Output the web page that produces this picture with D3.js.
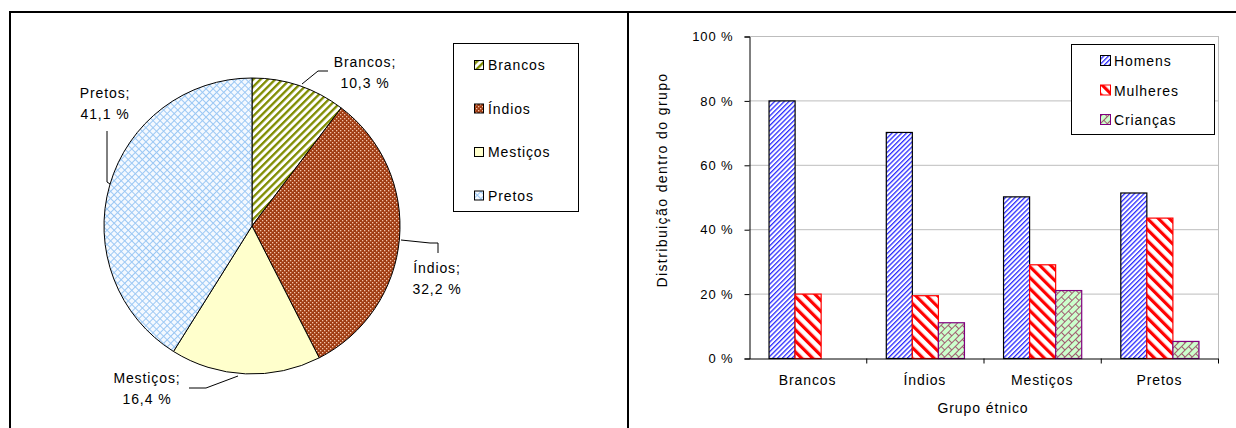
<!DOCTYPE html>
<html><head><meta charset="utf-8">
<script src="https://cdn.jsdelivr.net/npm/d3@7"></script>
<style>body{margin:0;background:#fff}svg{display:block;font-family:"Liberation Sans",Arial,sans-serif}</style>
</head><body>
<svg id="c" width="1236" height="428"></svg>
<script>
// ---- data ----
const pieCategories = ["Brancos","Índios","Mestiços","Pretos"];
const pieValues = [10.3, 32.2, 16.4, 41.1];
const pieLabels = ["10,3 %","32,2 %","16,4 %","41,1 %"];

const barCategories = ["Brancos","Índios","Mestiços","Pretos"];
const seriesNames = ["Homens","Mulheres","Crianças"];
const homens   = [80, 70.2, 50.2, 51.4];
const mulheres = [20, 19.5, 29.1, 43.6];
const criancas = [0, 11.1, 21.1, 5.3];
const yTicks = [0,20,40,60,80,100];
const yTickLabels = ["0 %","20 %","40 %","60 %","80 %","100 %"];

const svg = d3.select("#c");
const defs = svg.append("defs");
const FS = 14, LS = 0.9;

// ---- patterns ----
function stripePat(id, bg, color, w, sw, angle){
  const p = defs.append("pattern").attr("id",id).attr("patternUnits","userSpaceOnUse")
    .attr("width",w).attr("height",w).attr("patternTransform",`rotate(${angle})`);
  p.append("rect").attr("width",w).attr("height",w).attr("fill",bg);
  p.append("rect").attr("width",sw).attr("height",w).attr("fill",color);
  return p;
}
stripePat("pBr","#ffffff","#7f8c00",5.2,2.3,45);
(function(){
  const p = defs.append("pattern").attr("id","pIn").attr("patternUnits","userSpaceOnUse").attr("width",4).attr("height",4);
  p.append("rect").attr("width",4).attr("height",4).attr("fill","#a03c12");
  p.append("rect").attr("x",0).attr("y",0).attr("width",1.3).attr("height",1.3).attr("fill","#f4c4aa");
  p.append("rect").attr("x",2).attr("y",2).attr("width",1.3).attr("height",1.3).attr("fill","#f4c4aa");
})();
(function(){
  const p = defs.append("pattern").attr("id","pMe").attr("patternUnits","userSpaceOnUse").attr("width",4).attr("height",4);
  p.append("rect").attr("width",4).attr("height",4).attr("fill","#ffffcc");
})();
(function(){
  const p = defs.append("pattern").attr("id","pPr").attr("patternUnits","userSpaceOnUse")
    .attr("width",5).attr("height",5).attr("patternTransform","rotate(45)");
  p.append("rect").attr("width",5).attr("height",5).attr("fill","#f4f9ff");
  p.append("rect").attr("width",1).attr("height",5).attr("fill","#9cc8f4");
  p.append("rect").attr("width",5).attr("height",1).attr("fill","#9cc8f4");
})();
(function(){
  const p = defs.append("pattern").attr("id","pHo").attr("patternUnits","userSpaceOnUse")
    .attr("width",3.4).attr("height",3.4).attr("patternTransform","rotate(45)");
  p.append("rect").attr("width",3.4).attr("height",3.4).attr("fill","#ffffff");
  p.append("rect").attr("width",1.3).attr("height",3.4).attr("fill","#2b2bff");
})();
stripePat("pMu","#ffffff","#ff0000",7.8,3.2,-45);
(function(){
  const p = defs.append("pattern").attr("id","pCr").attr("patternUnits","userSpaceOnUse")
    .attr("width",10).attr("height",10).attr("patternTransform","rotate(-45)");
  p.append("rect").attr("width",10).attr("height",10).attr("fill","#ccffcc");
  p.append("rect").attr("x",0).attr("y",0).attr("width",10).attr("height",1).attr("fill","#a05a70");
  p.append("rect").attr("x",0).attr("y",5).attr("width",10).attr("height",1).attr("fill","#a05a70");
  p.append("rect").attr("x",0).attr("y",0).attr("width",1).attr("height",5).attr("fill","#a05a70");
  p.append("rect").attr("x",5).attr("y",5).attr("width",1).attr("height",5).attr("fill","#a05a70");
})();
const piePats = ["url(#pBr)","url(#pIn)","url(#pMe)","url(#pPr)"];
const barPats = ["url(#pHo)","url(#pMu)","url(#pCr)"];
const barStrokes = ["#000000","#ff0000","#800080"];

function txt(sel){ return sel.attr("font-size",FS).attr("letter-spacing",LS).attr("fill","#000"); }

// ---- table frame ----
svg.append("line").attr("x1",9).attr("x2",1236).attr("y1",12).attr("y2",12).attr("stroke","#000").attr("stroke-width",2);
svg.append("line").attr("x1",10).attr("x2",10).attr("y1",11).attr("y2",428).attr("stroke","#000").attr("stroke-width",2);
svg.append("line").attr("x1",628).attr("x2",628).attr("y1",11).attr("y2",428).attr("stroke","#000").attr("stroke-width",2);

// ---- pie ----
const cx=252, cy=226, R=148;
const pie = d3.pie().sort(null).value(d=>d)(pieValues);
const arc = d3.arc().innerRadius(0).outerRadius(R);
const gp = svg.append("g").attr("transform",`translate(${cx},${cy})`);
gp.selectAll("path").data(pie).join("path").attr("d",arc)
  .attr("fill",(d,i)=>piePats[i]).attr("stroke","#000").attr("stroke-width",1);

const lblPos = [[365,62],[437,268],[147,378],[105,93]];
const leaders = [
  [[302,84],[318,71],[328,71]],
  [[401,240],[430,243],[438,243],[438,253]],
  [[238,376],[206,388],[189,388]],
  [[110,184],[107,182],[107,131]]
];
pieCategories.forEach((c,i)=>{
  const t = txt(svg.append("text").attr("text-anchor","middle"));
  t.append("tspan").attr("x",lblPos[i][0]).attr("y",lblPos[i][1]+5).text(c+";");
  t.append("tspan").attr("x",lblPos[i][0]).attr("y",lblPos[i][1]+26).text(pieLabels[i]);
  svg.append("path").attr("d",d3.line()(leaders[i])).attr("fill","none").attr("stroke","#000").attr("stroke-width",1);
});
// pie legend
svg.append("rect").attr("x",453.5).attr("y",43.5).attr("width",125).attr("height",168).attr("fill","#fff").attr("stroke","#000");
pieCategories.forEach((c,i)=>{
  const y = 65 + i*43.5;
  svg.append("rect").attr("x",474.5).attr("y",y-4.5).attr("width",9).attr("height",9).attr("fill",piePats[i]).attr("stroke","#000");
  txt(svg.append("text").attr("x",488).attr("y",y+5)).text(c);
});

// ---- bar chart ----
const x0 = d3.scaleBand().domain(barCategories).range([749,1218]).paddingInner(0).paddingOuter(0);
const y = d3.scaleLinear().domain([0,100]).range([358,36]);
const bw = x0.bandwidth()/4.5;
const g = svg.append("g");
g.selectAll("line.grid").data(yTicks.slice(1)).join("line")
  .attr("x1",749).attr("x2",1218).attr("y1",d=>y(d)+0.5).attr("y2",d=>y(d)+0.5)
  .attr("stroke","#bdbdbd").attr("stroke-width",1);
g.append("line").attr("x1",1218.5).attr("x2",1218.5).attr("y1",36).attr("y2",358).attr("stroke","#bdbdbd");
const series = [homens, mulheres, criancas];
series.forEach((vals,s)=>{
  g.selectAll(null).data(vals.map((v,i)=>({v,i}))).join("rect")
    .filter(d=>d.v>0)
    .attr("x",d=>x0(barCategories[d.i]) + bw*0.75 + s*bw + 0.5)
    .attr("y",d=>y(d.v)+0.5).attr("width",bw).attr("height",d=>y(0)-y(d.v))
    .attr("fill",barPats[s]).attr("stroke",barStrokes[s]).attr("stroke-width",1.2);
});
const ya = d3.axisLeft(y).tickValues(yTicks).tickFormat((d,i)=>yTickLabels[i]).tickSize(5).tickPadding(11);
const gy = g.append("g").attr("transform","translate(749.5,0.5)").call(ya);
gy.select(".domain").attr("stroke","#000");
gy.selectAll(".tick line").attr("stroke","#000");
gy.selectAll("text").attr("font-size",FS-1).attr("letter-spacing",LS).attr("font-family","Liberation Sans, Arial, sans-serif").attr("fill","#000");
const xa = d3.axisBottom(x0).tickSize(0).tickPadding(17);
const gx = g.append("g").attr("transform","translate(0,358.5)").call(xa);
gx.select(".domain").attr("stroke","#000");
gx.selectAll("text").attr("font-size",FS).attr("letter-spacing",LS).attr("font-family","Liberation Sans, Arial, sans-serif").attr("fill","#000");
gx.selectAll("line.sep").data(barCategories.slice(1)).join("line")
  .attr("x1",d=>x0(d)+0.5).attr("x2",d=>x0(d)+0.5).attr("y1",0).attr("y2",5).attr("stroke","#000");
gx.append("line").attr("x1",1218.5).attr("x2",1218.5).attr("y1",0).attr("y2",5).attr("stroke","#000");
svg.append("text").attr("transform","translate(667,180) rotate(-90)").attr("text-anchor","middle")
  .attr("font-size",FS).attr("letter-spacing",1.4).text("Distribuição dentro do grupo");
txt(svg.append("text").attr("x",983).attr("y",413).attr("text-anchor","middle")).text("Grupo étnico");
// legend
svg.append("rect").attr("x",1071.5).attr("y",44.5).attr("width",143).attr("height",90).attr("fill","#fff").attr("stroke","#000");
seriesNames.forEach((n,i)=>{
  const yy = 61 + i*29.5;
  svg.append("rect").attr("x",1100.5).attr("y",yy-5.5).attr("width",10).attr("height",10).attr("fill",barPats[i]).attr("stroke",barStrokes[i]);
  txt(svg.append("text").attr("x",1114).attr("y",yy+5)).text(n);
});
</script>
</body></html>
